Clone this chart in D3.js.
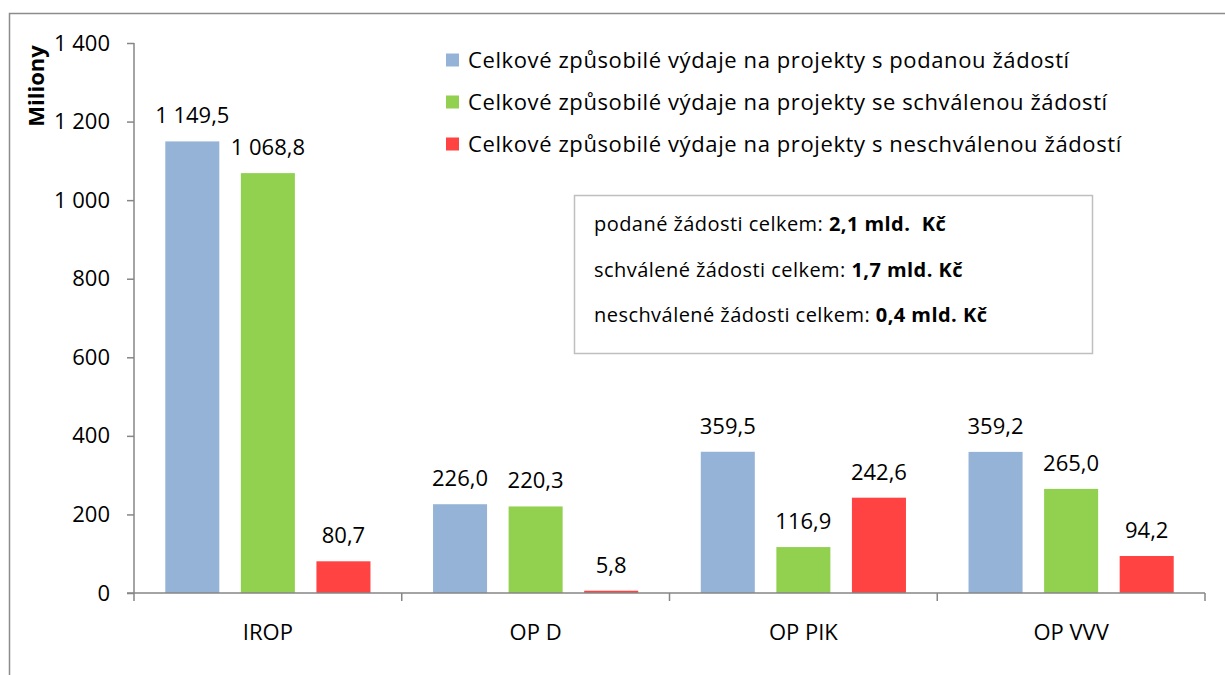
<!DOCTYPE html>
<html>
<head>
<meta charset="utf-8">
<script src="https://cdn.jsdelivr.net/npm/d3@7"></script>
<style>
body { margin: 0; background: #fff; }
text { font-family: "Open Sans", sans-serif; fill: #000; }
</style>
</head>
<body>
<div id="chart"></div>
<script>
var categories = ["IROP", "OP D", "OP PIK", "OP VVV"];
var seriesNames = [
    "Celkové způsobilé výdaje na projekty s podanou žádostí",
    "Celkové způsobilé výdaje na projekty se schválenou žádostí",
    "Celkové způsobilé výdaje na projekty s neschválenou žádostí"
];
var podane = [1149.5, 226.0, 359.5, 359.2];
var schvalene = [1068.8, 220.3, 116.9, 265.0];
var neschvalene = [80.7, 5.8, 242.6, 94.2];
var yTicks = [0, 200, 400, 600, 800, 1000, 1200, 1400];
var summaryLabels = ["podané žádosti celkem: ", "schválené žádosti celkem: ", "neschválené žádosti celkem: "];
var summaryValues = ["2,1 mld.  Kč", "1,7 mld. Kč", "0,4 mld. Kč"];

var colors = ["#95B3D7", "#92D050", "#FF4343"];
var allSeries = [podane, schvalene, neschvalene];

var width = 1225, height = 675;
var plotLeft = 134, plotRight = 1205, plotTop = 43, plotBottom = 593;

var locale = d3.formatLocale({decimal: ",", thousands: "\u00a0", grouping: [3], currency: ["", ""]});
var fmtTick = locale.format(",.0f");
var fmtVal = locale.format(",.1f");

var svg = d3.select("#chart").append("svg")
    .attr("width", width)
    .attr("height", height);

// outer frame (right and bottom run off the picture)
svg.append("path")
    .attr("d", "M9.5," + height + "V13.5H" + width)
    .attr("fill", "none")
    .attr("stroke", "#8c8c8c")
    .attr("stroke-width", 1.5);

var x0 = d3.scaleBand().domain(categories).range([plotLeft, plotRight]);
var x1 = d3.scaleBand().domain(d3.range(3)).range([0, x0.bandwidth()])
    .paddingInner(0.285).paddingOuter(0.414);
var y = d3.scaleLinear().domain([0, 1400]).range([plotBottom, plotTop]);

// y axis
var yAxis = svg.append("g")
    .attr("transform", "translate(" + plotLeft + ",0)")
    .call(d3.axisLeft(y).tickValues(yTicks).tickSize(7).tickPadding(17).tickFormat(fmtTick));
yAxis.selectAll("line, path").attr("stroke", "#868686").attr("stroke-width", 1.5);
yAxis.select(".domain").attr("d", "M0," + plotBottom + "V" + plotTop);
yAxis.selectAll("text").attr("fill", "#000").style("font-size", "22px").style("font-family", null);

svg.append("text")
    .attr("transform", "translate(44,86) rotate(-90)")
    .attr("text-anchor", "middle")
    .style("font-size", "22px")
    .style("font-weight", "bold")
    .text("Miliony");

// bars
var groups = svg.selectAll(".grp")
    .data(categories)
    .enter().append("g")
    .attr("class", "grp")
    .attr("transform", function(d){ return "translate(" + x0(d) + ",0)"; });

groups.selectAll("rect")
    .data(function(d, i){ return allSeries.map(function(s, j){ return {s: j, v: s[i]}; }); })
    .enter().append("rect")
    .attr("x", function(d){ return x1(d.s); })
    .attr("y", function(d){ return y(d.v); })
    .attr("width", x1.bandwidth())
    .attr("height", function(d){ return plotBottom - y(d.v); })
    .attr("fill", function(d){ return colors[d.s]; });

groups.selectAll(".val")
    .data(function(d, i){ return allSeries.map(function(s, j){ return {s: j, v: s[i]}; }); })
    .enter().append("text")
    .attr("class", "val")
    .attr("x", function(d){ return x1(d.s) + x1.bandwidth() / 2; })
    .attr("y", function(d){ return y(d.v) - 18; })
    .attr("text-anchor", "middle")
    .style("font-size", "22px")
    .text(function(d){ return fmtVal(d.v); });

// x axis
var xAxis = svg.append("g")
    .attr("transform", "translate(0," + plotBottom + ")");
xAxis.append("path")
    .attr("d", "M127,0H" + plotRight)
    .attr("stroke", "#868686")
    .attr("stroke-width", 1.5)
    .attr("fill", "none");
xAxis.selectAll(".tk")
    .data(categories.concat([null]))
    .enter().append("line")
    .attr("x1", function(d){ return d ? x0(d) : plotRight; })
    .attr("x2", function(d){ return d ? x0(d) : plotRight; })
    .attr("y1", 0).attr("y2", 8)
    .attr("stroke", "#868686")
    .attr("stroke-width", 1.5);
xAxis.selectAll(".cat")
    .data(categories)
    .enter().append("text")
    .attr("x", function(d){ return x0(d) + x0.bandwidth() / 2; })
    .attr("y", 47)
    .attr("text-anchor", "middle")
    .style("font-size", "22px")
    .text(function(d){ return d; });

// legend
var legend = svg.selectAll(".leg")
    .data(seriesNames)
    .enter().append("g")
    .attr("transform", function(d, i){ return "translate(446," + (60 + i * 42) + ")"; });
legend.append("rect")
    .attr("x", 0).attr("y", -6.5)
    .attr("width", 13).attr("height", 13)
    .attr("fill", function(d, i){ return colors[i]; });
legend.append("text")
    .attr("x", 22).attr("y", 8)
    .style("font-size", "22px")
    .style("letter-spacing", "0.6px")
    .text(function(d){ return d; });

// summary box
svg.append("rect")
    .attr("x", 574.5).attr("y", 195.5)
    .attr("width", 518).attr("height", 158)
    .attr("fill", "#fff")
    .attr("stroke", "#bfbfbf")
    .attr("stroke-width", 1.5);
var lines = svg.selectAll(".sum")
    .data(summaryLabels)
    .enter().append("text")
    .attr("x", 594)
    .attr("y", function(d, i){ return 231 + i * 45.5; })
    .style("font-size", "20px")
    .style("letter-spacing", "0.45px")
    .style("white-space", "pre");
lines.append("tspan").text(function(d){ return d; });
lines.append("tspan").style("font-weight", "bold")
    .text(function(d, i){ return summaryValues[i]; });
</script>
</body>
</html>
